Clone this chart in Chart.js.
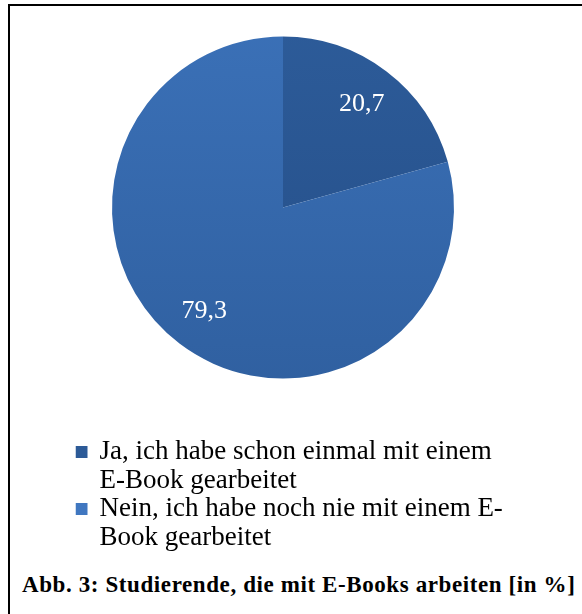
<!DOCTYPE html>
<html>
<head>
<meta charset="utf-8">
<script src="https://cdn.jsdelivr.net/npm/chart.js@4.4.1/dist/chart.umd.min.js"></script>
<style>
  body { margin: 0; background: #fff; }
  #wrap { position: relative; width: 582px; height: 614px; overflow: hidden; }
  #frame { position: absolute; left: 8px; top: 4px; width: 620px; height: 640px; border-top: 2px solid #000; border-left: 2px solid #000; }
  canvas { position: absolute; left: 0; top: 0; }
  #caption { position: absolute; left: 22px; top: 571px; white-space: nowrap; font: bold 23px "Liberation Serif", serif; letter-spacing: 0.6px; line-height: 28px; color: #000; }
</style>
</head>
<body>
<div id="wrap">
  <div id="frame"></div>
  <canvas id="pie" width="582" height="565"></canvas>
  <div id="caption">Abb. 3: Studierende, die mit E-Books arbeiten [in %]</div>
</div>
<script>
// Anteile in %
const labels = [
    ['Ja, ich habe schon einmal mit einem', 'E-Book gearbeitet'],
    ['Nein, ich habe noch nie mit einem E-', 'Book gearbeitet']
];
const values = [20.7, 79.3];
const topColors = ['#2d5c9a', '#3b71b8'];
const bottomColors = ['#244d86', '#2f5f9f'];
const legendColors = ['#2c5a97', '#4077c0'];

// Zahlen in die Segmente schreiben (mit Komma)
const sliceValues = {
    id: 'sliceValues',
    afterDatasetsDraw(chart) {
        const ctx = chart.ctx;
        const meta = chart.getDatasetMeta(0);
        ctx.save();
        ctx.font = '26px "Liberation Serif"';
        ctx.fillStyle = '#ffffff';
        ctx.textAlign = 'center';
        ctx.textBaseline = 'middle';
        meta.data.forEach((arc, i) => {
            const p = arc.getProps(['x', 'y', 'startAngle', 'endAngle', 'outerRadius'], true);
            const mid = (p.startAngle + p.endAngle) / 2;
            const r = p.outerRadius * 0.76;
            ctx.fillText(values[i].toFixed(1).replace('.', ','), p.x + Math.cos(mid) * r, p.y + Math.sin(mid) * r);
        });
        ctx.restore();
    }
};

function sliceColor(c) {
    const area = c.chart.chartArea;
    if (!area) return topColors[c.dataIndex];
    const g = c.chart.ctx.createLinearGradient(0, area.top, 0, area.bottom);
    g.addColorStop(0, topColors[c.dataIndex]);
    g.addColorStop(1, bottomColors[c.dataIndex]);
    return g;
}

// jede Zeile ein eigener Legendeneintrag, Kaestchen nur vor der ersten Zeile
function legendLines() {
    const items = [];
    labels.forEach((lines, i) => {
        lines.forEach((line, j) => {
            items.push({
                text: line,
                fillStyle: j === 0 ? legendColors[i] : 'rgba(0,0,0,0)',
                strokeStyle: 'rgba(0,0,0,0)',
                fontColor: '#000',
                lineWidth: 0,
                pointStyle: 'rect',
                hidden: false,
                index: i
            });
        });
    });
    return items;
}

new Chart(document.getElementById('pie'), {
    type: 'pie',
    data: {
        labels: labels,
        datasets: [{
            data: values,
            backgroundColor: sliceColor,
            borderWidth: 0,
            radius: 171
        }]
    },
    options: {
        responsive: false,
        animation: false,
        events: [],
        layout: { padding: { left: 75.5, right: 0, top: 7, bottom: 4 } },
        plugins: {
            tooltip: { enabled: false },
            // leerer Titel rechts als Abstandhalter, damit die Legende breit bleiben kann
            title: { display: true, text: '', position: 'right', fullSize: false, padding: 0, font: { size: 91.5, lineHeight: 1 } },
            legend: {
                position: 'bottom',
                align: 'start',
                title: { display: true, text: '', padding: 0, font: { size: 29, lineHeight: 1 } },
                labels: {
                    usePointStyle: true,
                    pointStyle: 'rect',
                    boxWidth: 9,
                    boxHeight: 12,
                    padding: 1.5,
                    color: '#000',
                    font: { family: '"Liberation Serif"', size: 27, lineHeight: 1 },
                    generateLabels: legendLines
                }
            }
        }
    },
    plugins: [sliceValues]
});
</script>
</body>
</html>
